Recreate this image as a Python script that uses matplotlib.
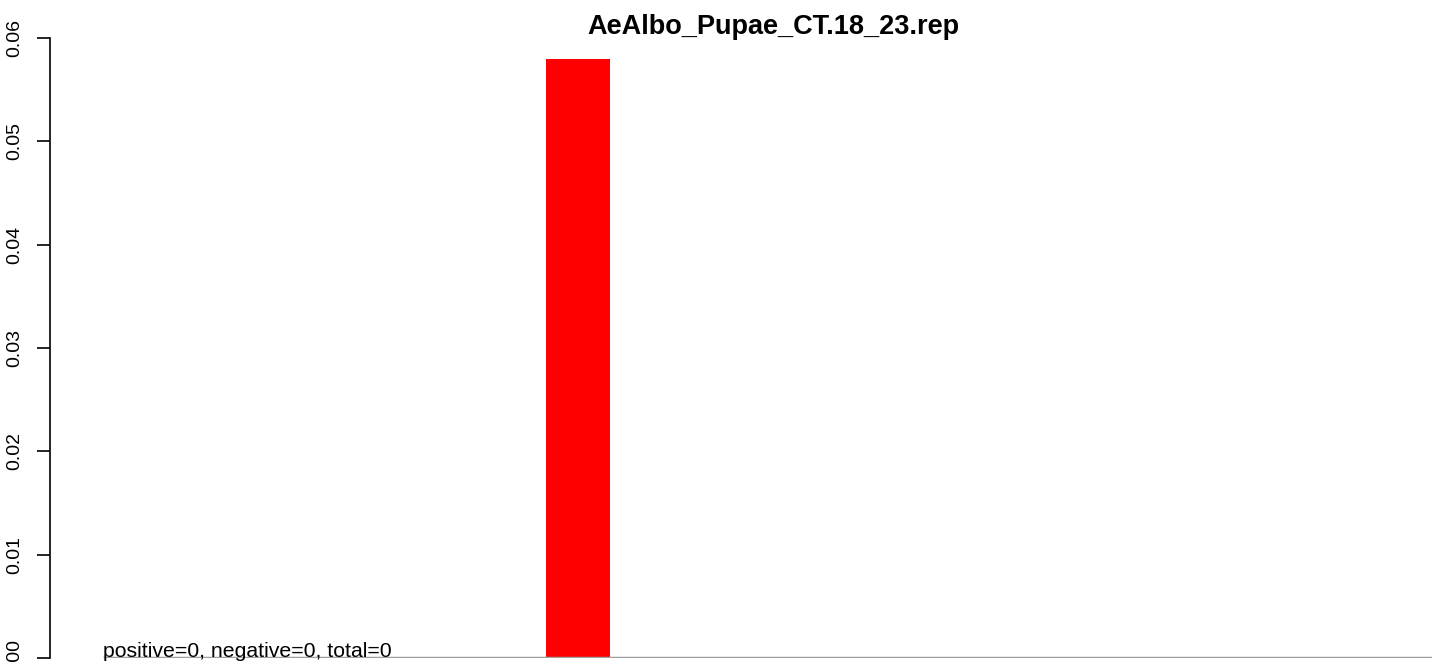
import numpy as np
import matplotlib.pyplot as plt

plt.rcParams['font.family'] = ['Liberation Sans', 'DejaVu Sans']

# Data
title = "AeAlbo_Pupae_CT.18_23.rep"
bar_pos = [8.25]          # bar centre, in bar-width units
bar_vals = [0.058]
yticks = [0.00, 0.01, 0.02, 0.03, 0.04, 0.05, 0.06]
note = "positive=0, negative=0, total=0"

W, H = 1439, 664
fig = plt.figure(figsize=(W / 100, H / 100), dpi=100)
# axes from x=50..1432 px, y=38..658 px
ax = fig.add_axes([50 / W, 1 - 658 / H, (1432 - 50) / W, (658 - 38) / H])

xmax = (1432 - 50) / 64.0
ax.bar(bar_pos, bar_vals, width=1.0, color='#ff0000', zorder=2)
ax.hlines(0, (103 - 50) / 64.0, xmax, color='#a0a0a0', lw=2.5, zorder=3)

ax.set_xlim(0, xmax)
ax.set_ylim(0, 0.06)
ax.set_yticks(yticks)
ax.set_yticklabels([f"{t:.2f}" for t in yticks], rotation=90, va='center', fontsize=14)
ax.tick_params(axis='y', length=9.4, width=1.2, pad=10)
ax.set_xticks([])
for s in ['top', 'right', 'bottom']:
    ax.spines[s].set_visible(False)
ax.spines['left'].set_linewidth(1.2)

ax.text((103 - 50) / 64.0, 0.00013, note, fontsize=15.3, ha='left', va='baseline')
fig.text(773 / W, 1 - 34 / H, title, fontsize=19.5, fontweight='bold', ha='center', va='baseline')

fig.savefig('out.png', dpi=100)
